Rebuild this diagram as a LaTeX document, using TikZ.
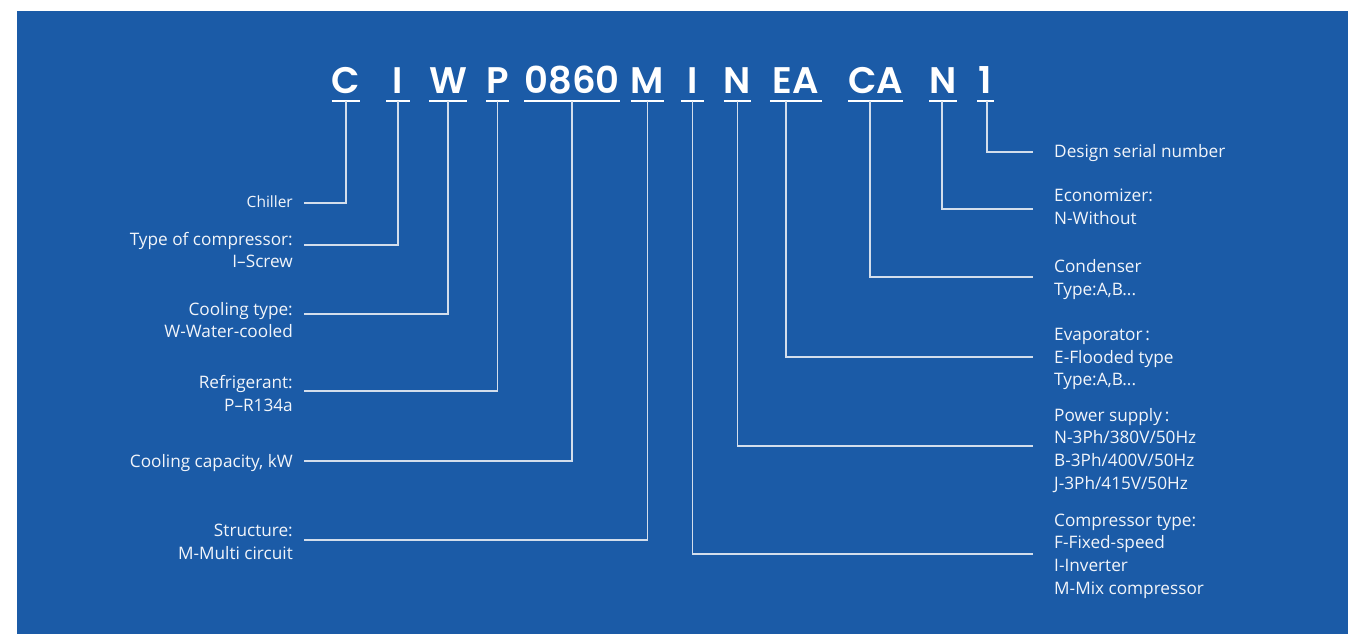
\documentclass[tikz,border=0pt]{standalone}
\usepackage{fontspec}
\setmainfont{Open Sans}
\newfontfamily\codefont{Poppins SemiBold}
\usepackage{xcolor}
\usepackage{tikz}
\usetikzlibrary{positioning}
\definecolor{panelblue}{HTML}{1B5BA7}
\definecolor{leadgray}{HTML}{D3DEEC}
\definecolor{textwhite}{HTML}{F2F5FA}

\begin{document}
\begin{tikzpicture}[
    x=1pt, y=-1pt,
    code/.style={font=\codefont\fontsize{37pt}{37pt}\selectfont, text=white, anchor=base, inner xsep=0pt, inner ysep=8pt, text depth=0pt},
    uline/.style={line width=1.8pt, white},
    lead/.style={line width=1.4pt, leadgray},
    lbl/.style={font=\fontsize{17.2pt}{22.7pt}\selectfont, text=textwhite, inner sep=0pt},
    lblleft/.style={lbl, align=right, anchor=base east},
    lblright/.style={lbl, align=left, anchor=base west},
]
\useasboundingbox (0,0) rectangle (1348,634);
\fill[white] (0,0) rectangle (1348,634);
\fill[panelblue] (17,11) rectangle (1348,634);
% Model code
\node[code, minimum width=23pt] (cC) at (346,93) {C};
\node[code, minimum width=23pt] (cI) at (398,93) {I};
\node[code, minimum width=23pt] (cW) at (448,93) {W};
\node[code, minimum width=23pt] (cP) at (497.5,93) {P};
\node[code, minimum width=90pt] (cCap) at (572,93) {0860};
\node[code, minimum width=23pt] (cM) at (647.5,93) {M};
\node[code, minimum width=23pt] (cI2) at (692.5,93) {I};
\node[code, minimum width=23pt] (cN) at (737.5,93) {N};
\node[code, minimum width=52pt] (cEA) at (796,93) {EA};
\node[code, minimum width=53pt] (cCA) at (875.5,93) {CA};
\node[code, minimum width=27pt] (cN2) at (943,93) {N};
\node[code, minimum width=17pt] (c1) at (985.5,93) {1};
\foreach \c in {cC, cI, cW, cP, cCap, cM, cI2, cN, cEA, cCA, cN2, c1}
    \draw[uline] (\c.south west) -- (\c.south east);
% Left labels (base = last line)
\node[lblleft, font=\fontsize{15.5pt}{22.7pt}\selectfont] (chiller) at (293,207) {Chiller};
\node[lblleft] (comptype) at (293,267.7) {Type of compressor:\\I--Screw};
\node[lblleft] (cooltype) at (293,337.7) {Cooling type:\\W-Water-cooled};
\node[lblleft] (refrig) at (293,411) {Refrigerant:\\P--R134a};
\node[lblleft] (capacity) at (293,467) {Cooling capacity, kW};
\node[lblleft] (struct) at (293,559.5) {Structure:\\M-Multi circuit};
\coordinate (eChiller) at (304,203);
\coordinate (eCompType) at (304,245);
\coordinate (eCoolType) at (304,314);
\coordinate (eRefrig) at (304,391);
\coordinate (eCapacity) at (304,461);
\coordinate (eStruct) at (304,540);
\draw[lead] (cC.south) |- (eChiller);
\draw[lead] (cI.south) |- (eCompType);
\draw[lead] (cW.south) |- (eCoolType);
\draw[lead] (cP.south) |- (eRefrig);
\draw[lead] (cCap.south) |- (eCapacity);
\draw[lead] (cM.south) |- (eStruct);
% Right labels
\node[lblright] (serial) at (1054,157) {Design serial number};
\node[lblright] (econ) at (1054,224) {Economizer:\\N-Without};
\node[lblright] (cond) at (1054,295) {Condenser\\Type:A,B...};
\node[lblright] (evap) at (1054,385.7) {Evaporator\,:\\E-Flooded type\\Type:A,B...};
\node[lblright] (power) at (1054,489.3) {Power supply\,:\\N-3Ph/380V/50Hz\\B-3Ph/400V/50Hz\\J-3Ph/415V/50Hz};
\node[lblright] (compr) at (1054,594.3) {Compressor type:\\F-Fixed-speed\\I-Inverter\\M-Mix compressor};
\coordinate (eSerial) at (1033,152);
\coordinate (eEcon) at (1033,209);
\coordinate (eCond) at (1033,277);
\coordinate (eEvap) at (1033,357);
\coordinate (ePower) at (1033,446);
\coordinate (eCompr) at (1033,554);
\draw[lead] ([xshift=1.5pt]c1.south) |- (eSerial);
\draw[lead] ([xshift=-1pt]cN2.south) |- (eEcon);
\draw[lead] ([xshift=-5.5pt]cCA.south) |- (eCond);
\draw[lead] ([xshift=-10pt]cEA.south) |- (eEvap);
\draw[lead] (cN.south) |- (ePower);
\draw[lead] (cI2.south) |- (eCompr);
\end{tikzpicture}
\end{document}
